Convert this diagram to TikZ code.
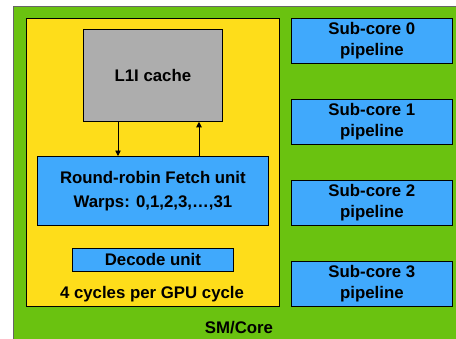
\documentclass[tikz,border=0pt]{standalone}
\usepackage{fontspec}
\setmainfont{Liberation Sans}
\usetikzlibrary{arrows.meta}
\definecolor{smgreen}{RGB}{106,194,16}
\definecolor{ylw}{RGB}{254,221,26}
\definecolor{blu}{RGB}{64,169,252}
\definecolor{gry}{RGB}{173,173,173}
\tikzset{
  box/.style={draw=black, line width=0.8pt, inner sep=0pt, align=center, font=\bfseries\fontsize{16.8}{20}\selectfont},
  lbl/.style={inner sep=0pt, font=\bfseries\fontsize{16.8}{20}\selectfont},
  sub/.style={box, fill=blu, minimum width=161, minimum height=45, anchor=north west, font=\bfseries\fontsize{16.8}{21}\selectfont},
  arr/.style={line width=0.8pt, -{Triangle[length=5.5pt,width=5.5pt]}}
}
\begin{document}
\begin{tikzpicture}[x=1pt,y=-1pt]
\useasboundingbox (0,0) rectangle (456,338);
\fill[white] (0,0) rectangle (456,338);
\path[fill=smgreen, draw=gray!80!black, line width=0.9pt] (456,6) -- (13.5,6) -- (13.5,340) -- (456,340);
\node[box, fill=ylw, minimum width=253, minimum height=288, anchor=north west] (core) at (26,18) {};
\node[box, fill=gry, minimum width=139, minimum height=92, anchor=north west] (l1i) at (83,29) {L1I cache};
\node[box, fill=blu, minimum width=231, minimum height=69, anchor=north west, font=\bfseries\fontsize{16.8}{24}\selectfont] (fetch) at (37,156) {Round-robin Fetch unit\\Warps: 0,1,2,3,…,31};
\node[box, fill=blu, minimum width=161, minimum height=23, anchor=north west] (dec) at (72,248) {Decode unit};
\node[lbl] (cyc) at (152,294) {4 cycles per GPU cycle};
\node[sub] (s0) at (291,18) {Sub-core 0\\pipeline};
\node[sub] (s1) at (291,99) {Sub-core 1\\pipeline};
\node[sub] (s2) at (291,180) {Sub-core 2\\pipeline};
\node[sub] (s3) at (291,261) {Sub-core 3\\pipeline};
\node[lbl] (sm) at (239,328) {SM/Core};
\draw[arr] (l1i.south west -| 118,0) -- (fetch.north west -| 118,0);
\draw[arr] (fetch.north west -| 199,0) -- (l1i.south west -| 199,0);
\end{tikzpicture}
\end{document}
